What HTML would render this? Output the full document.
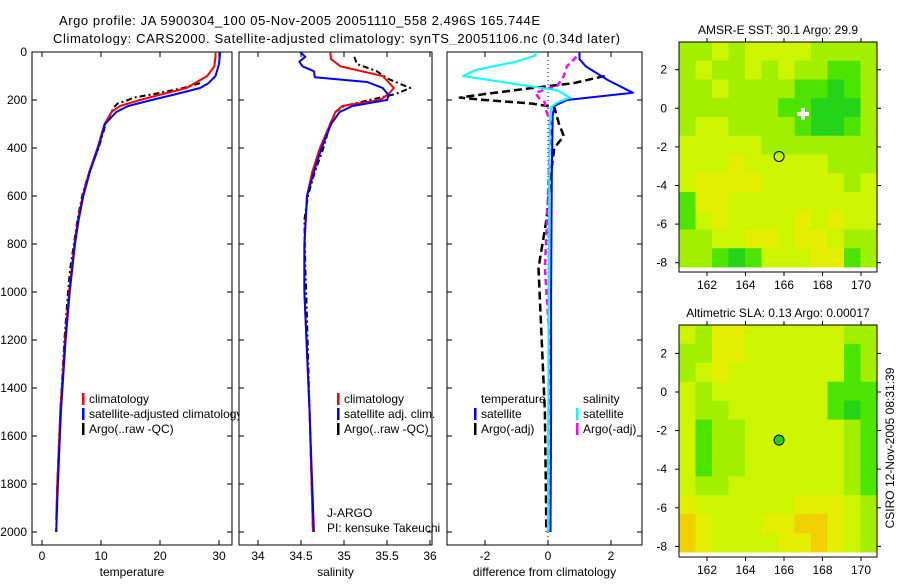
<!DOCTYPE html>
<html><head><meta charset="utf-8"><style>
body{margin:0;background:#fff;width:900px;height:580px;overflow:hidden}
svg{font-family:"Liberation Sans",sans-serif;font-size:12px}
</style></head><body>
<svg id="fig" width="900" height="580" viewBox="0 0 900 580" xmlns="http://www.w3.org/2000/svg">
<rect width="900" height="580" fill="#fff"/>
<text x="59" y="25" textLength="481" font-size="13">Argo profile: JA 5900304_100 05-Nov-2005 20051110_558 2.496S 165.744E</text>
<text x="53" y="43" textLength="567" font-size="13">Climatology: CARS2000. Satellite-adjusted climatology: synTS_20051106.nc (0.34d later)</text>
<g id="g"></g>
</svg>
<script>
// ---- profile data (depth in m) ----
const tClimD=[0,20,60,100,150,175,200,225,250,300,400,500,600,700,800,1000,1200,1500,1800,1950];
const tClimV=[29.4,29.4,29.2,28.0,24.5,20.5,16.6,13.2,11.8,10.6,9.4,8.0,6.9,6.1,5.5,4.6,3.9,3.1,2.6,2.4];
const tSatD=[0,50,100,130,150,175,200,225,250,300,400,500,600,700,800,1000,1200,1500,1800,2000];
const tSatV=[30.2,30.0,29.4,28.2,26.8,22.8,18.6,14.6,12.6,10.7,9.5,8.1,7.0,6.2,5.6,4.7,4.0,3.2,2.7,2.4];
const tArgD=[130,150,175,190,200,215,230,250,300,400,500,600,700,800,900,1000,1200,1500,1800,2000];
const tArgV=[26.8,24.0,19.0,15.6,14.6,12.8,12.2,11.8,10.8,9.6,8.0,6.8,6.0,5.4,4.8,4.4,3.8,3.1,2.6,2.4];
const sClimD=[0,30,60,100,150,175,200,225,250,300,400,500,600,800,1000,1500,2000];
const sClimV=[34.84,34.85,34.96,35.45,35.58,35.52,35.42,34.98,34.9,34.84,34.72,34.63,34.57,34.54,34.54,34.6,34.64];
const sSatD=[0,20,40,60,80,105,125,150,180,200,225,250,300,400,500,600,800,1000,1500,2000];
const sSatV=[34.49,34.55,34.48,34.52,34.65,34.66,35.27,35.45,35.52,35.5,35.1,34.95,34.85,34.74,34.65,34.57,34.54,34.54,34.6,34.65];
const sArgD=[20,50,80,110,150,175,200,225,250,300,400,500,600,700,900,1000,1500,2000];
const sArgV=[35.12,35.15,35.38,35.5,35.77,35.6,35.3,35.0,34.9,34.84,34.76,34.66,34.58,34.54,34.55,34.56,34.6,34.64];
const dTSatD=[0,30,60,117,170,200,225,265,500,1000,1500,2000];
const dTSatV=[1.0,1.0,1.2,1.9,2.7,0.6,0.2,0.15,0.12,0.1,0.1,0.08];
const dTArgD=[100,130,150,175,190,200,215,230,300,350,400,450,500,700,900,1200,1500,2000];
const dTArgV=[1.8,0.8,-0.5,-2.0,-2.8,-2.0,-0.5,0.2,0.35,0.5,0.2,0.15,0.1,-0.05,-0.3,-0.2,-0.1,-0.05];
const dSSatD=[0,15,40,75,100,130,160,190,210,230,300,1000,2000];
const dSSatV=[-0.4,-0.4,-1.0,-2.3,-2.7,-1.2,0.3,0.7,0.3,0.1,0.05,0.02,0.0];
const dSArgD=[20,60,100,140,170,190,210,230,300,400,600,900,1200,1500,2000];
const dSArgV=[0.9,0.6,0.5,0.3,-0.4,-0.3,-0.1,-0.1,0.1,0.05,0.0,-0.1,0.05,0.02,0.0];
const depthTicks=[0,200,400,600,800,1000,1200,1400,1600,1800,2000];
const tTicks=[0,10,20,30];
const sTicks=[34,34.5,35,35.5,36];
const dTicks=[-2,0,2];
// ---- map data (coarse grid, level codes 0..5) ----
const sstGrid=["332322223333","323323233443","332333344543","333333445553","322333345543","222223333333","222122222333","211112222232","411222222222","421222212122","332211211233","334542221143"];
const slaGrid=["231122222233","331122222243","321222222243","232222222444","233222222454","243322222234","243322222234","243322222234","233222222234","122222211123","012221100123","012222110123"];
const lonTicks=[162,164,166,168,170];
const latTicks=[2,0,-2,-4,-6,-8];
const levelColors=["#f0d000","#e4ee00","#cdf400","#a2f000","#4ce400","#24d418"];

const NS="http://www.w3.org/2000/svg";
const G=document.getElementById('g');
function el(t,a,p){const e=document.createElementNS(NS,t);for(const k in a)e.setAttribute(k,a[k]);(p||G).appendChild(e);return e;}
const yD=d=>52+d*0.24;
const xT=v=>42+v*5.9, xS=v=>258+(v-34)*86, xDf=v=>548+v*31.5;

function panel(name,x0,x1,fx,ticks,label,lblFmt){
  const g=el('g',{});
  
  
  el('rect',{x:x0,y:45,width:x1-x0,height:500,fill:'#fff'},g);
  const fr=el('rect',{x:x0,y:52,width:x1-x0,height:493,fill:'none',stroke:'#000','stroke-width':1},g);
  
  
  ticks.forEach(t=>{const x=fx(t);
    el('line',{x1:x,x2:x,y1:545,y2:540,stroke:'#000'},g);
    el('line',{x1:x,x2:x,y1:52,y2:57,stroke:'#000'},g);
    const tx=el('text',{x:x,y:560,'text-anchor':'middle'},g);tx.textContent=lblFmt(t);
    
    
  });
  depthTicks.forEach(d=>{const y=yD(d);
    el('line',{x1:x0,x2:x0+5,y1:y,y2:y,stroke:'#000'},g);
    el('line',{x1:x1-5,x2:x1,y1:y,y2:y,stroke:'#000'},g);});
  const xl=el('text',{x:(x0+x1)/2,y:576,'text-anchor':'middle'},g);xl.textContent=label;
  
  
  return g;
}
function line(g,ds,vs,fx,col,w,dash,name){
  const pts=ds.map((d,i)=>fx(vs[i]).toFixed(1)+','+yD(d).toFixed(1)).join(' ');
  const p=el('polyline',{points:pts,fill:'none',stroke:col,'stroke-width':w,'stroke-linejoin':'round'},g);
  if(dash)p.setAttribute('stroke-dasharray',dash);
  
  
}
function legend(g,x,y,col,txt,name){
  el('rect',{x:x,y:y-10,width:2.5,height:12,fill:col},g);
  const t=el('text',{x:x+7,y:y},g);t.textContent=txt;
  
  
}
// Panel 1: temperature
const p1=panel('temperature-panel',32,232,xT,tTicks,'temperature',String);
depthTicks.forEach(d=>{const t=el('text',{x:27,y:yD(d)+4,'text-anchor':'end'});t.textContent=d;
  
  });
line(p1,tArgD,tArgV,xT,'#000',2,'6,3,2,3','temp-argo-line');
line(p1,tClimD,tClimV,xT,'#f00',2,null,'temp-climatology-line');
line(p1,tSatD,tSatV,xT,'#00f',2,null,'temp-satellite-line');
legend(p1,82,403,'#f00','climatology','legend-climatology');
legend(p1,82,418,'#00f','satellite-adjusted climatology','legend-satellite-adjusted');
legend(p1,82,433,'#000','Argo(..raw -QC)','legend-argo');
// Panel 2: salinity
const p2=panel('salinity-panel',239,432,xS,sTicks,'salinity',String);
line(p2,sArgD,sArgV,xS,'#000',2,'6,3,2,3','sal-argo-line');
line(p2,sClimD,sClimV,xS,'#f00',2,null,'sal-climatology-line');
line(p2,sSatD,sSatV,xS,'#00f',2,null,'sal-satellite-line');
legend(p2,337,403,'#f00','climatology','legend-sal-climatology');
legend(p2,337,418,'#00f','satellite adj. clim.','legend-sal-satellite');
legend(p2,337,433,'#000','Argo(..raw -QC)','legend-sal-argo');
[['J-ARGO',517],['PI: kensuke Takeuchi',532]].forEach(([s,y])=>{const t=el('text',{x:327,y:y},p2);t.textContent=s;
  
  });
// Panel 3: difference
const p3=panel('difference-panel',447,642,xDf,dTicks,'difference from climatology',String);
el('line',{x1:548,x2:548,y1:52,y2:545,stroke:'#000','stroke-dasharray':'1,3'},p3);
line(p3,dTArgD,dTArgV,xDf,'#000',2.5,'8,4','diff-temp-argo-line');
line(p3,dSArgD,dSArgV,xDf,'#f0f',2.5,'6,4','diff-sal-argo-line');
line(p3,dTSatD,dTSatV,xDf,'#00f',2,null,'diff-temp-satellite-line');
line(p3,dSSatD,dSSatV,xDf,'#0ff',2,null,'diff-sal-satellite-line');
[['temperature',481],['salinity',583]].forEach(([s,x])=>{const t=el('text',{x:x,y:403},p3);t.textContent=s;
  
  });
legend(p3,474,418,'#00f','satellite','legend-diff-temp-satellite');
legend(p3,474,433,'#000','Argo(-adj)','legend-diff-temp-argo');
legend(p3,576,418,'#0ff','satellite','legend-diff-sal-satellite');
legend(p3,576,433,'#f0f','Argo(-adj)','legend-diff-sal-argo');

// Maps
const xL=lon=>707+(lon-162)*19.25;
function map(name,grid,top,bottom,lat0y,title,marker){
  const g=el('g',{});
  
  
  const x0=679,x1=877,rows=grid.length,cols=grid[0].length;
  const cw=(x1-x0)/cols, ch=(bottom-5-top)/rows;
  grid.forEach((r,i)=>[...r].forEach((c,j)=>{
    const cell=el('rect',{x:x0+j*cw,y:top+i*ch,width:cw+0.5,height:ch+0.5,fill:levelColors[+c]},g);
    
    
  }));
  el('rect',{x:x0,y:top,width:x1-x0,height:bottom-top,fill:'none',stroke:'#000'},g);
  const yLat=l=>lat0y-l*19.3;
  latTicks.forEach(l=>{const y=yLat(l);
    el('line',{x1:x0,x2:x0-4,y1:y,y2:y,stroke:'#000'},g);el('line',{x1:x1,x2:x1+4,y1:y,y2:y,stroke:'#000'},g);
    const t=el('text',{x:x0-12,y:y+4,'text-anchor':'end'},g);t.textContent=l;
    
    });
  lonTicks.forEach(l=>{const x=xL(l);
    el('line',{x1:x,x2:x,y1:top,y2:top-4,stroke:'#000'},g);el('line',{x1:x,x2:x,y1:bottom,y2:bottom+4,stroke:'#000'},g);
    const t=el('text',{x:x,y:bottom+17,'text-anchor':'middle'},g);t.textContent=l;
    
    });
  const tt=el('text',{x:778,y:top-8,'text-anchor':'middle'},g);tt.textContent=title;
  
  
  const m=el('circle',{cx:xL(165.744),cy:yLat(-2.496),r:5,fill:marker,stroke:'#000'},g);
  
  
  return g;
}
const m1=map('sst-map',sstGrid,42,272,108.3,'AMSR-E SST: 30.1 Argo: 29.9','none');
el('path',{d:'M797 112h12v4h-12zM801 108h4v12h-4z',fill:'#fff'},m1);
map('sla-map',slaGrid,325,557,392,'Altimetric SLA: 0.13 Argo: 0.00017','#20d020');
const ct=el('text',{x:0,y:0,transform:'translate(894,448) rotate(-90)','text-anchor':'middle'});
ct.textContent='CSIRO 12-Nov-2005 08:31:39';


</script>
</body></html>
